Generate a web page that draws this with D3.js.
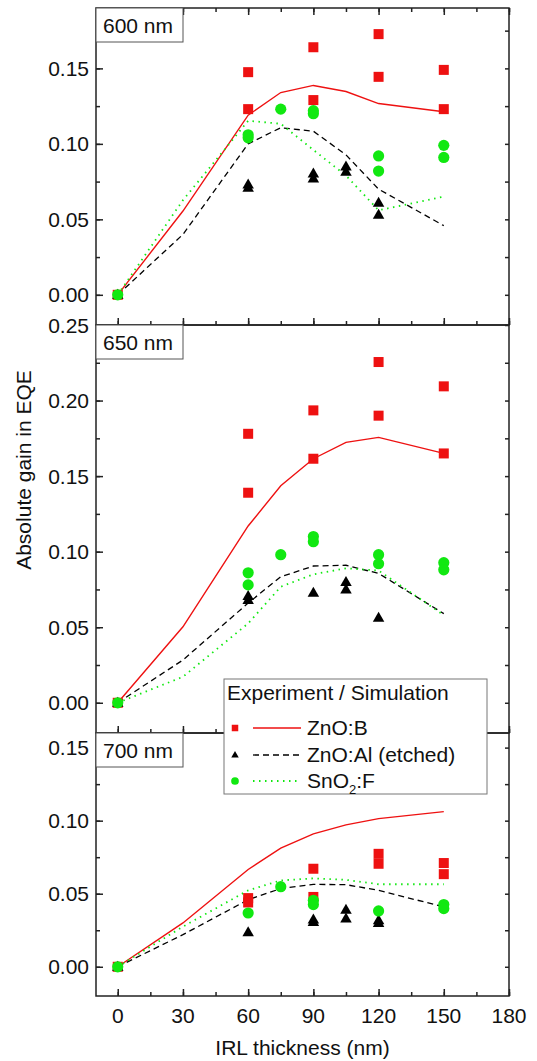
<!DOCTYPE html>
<html>
<head>
<meta charset="utf-8">
<style>
  body { margin: 0; background: #fff; }
  svg text { font-family: "Liberation Sans", Arial, sans-serif; fill: #111; }
  .axis path, .axis line { stroke: #222; stroke-width: 1.5px; }
</style>
<script src="https://d3js.org/d3.v7.min.js"></script>
</head>
<body>
<script>

// thickness grid of the simulations (nm)
var simX = [0, 30, 60, 75, 90, 105, 120, 150];

// 600 nm
var sim600B  = [0, 0.0555, 0.119, 0.134, 0.1387, 0.1347, 0.1267, 0.1213];
var sim600Al = [0, 0.040, 0.100, 0.1107, 0.1084, 0.0927, 0.070, 0.0458];
var sim600F  = [0, 0.0627, 0.1153, 0.1133, 0.096, 0.079, 0.056, 0.065];
var exp600B  = [[0,0],[60,0.1475],[60,0.123],[90,0.164],[90,0.129],[120,0.1727],[120,0.1444],[150,0.149],[150,0.123]];
var exp600Al = [[0,0],[60,0.073],[60,0.071],[90,0.0804],[90,0.077],[105,0.085],[105,0.0816],[120,0.061],[120,0.053]];
var exp600F  = [[0,0],[60,0.104],[60,0.106],[75,0.123],[90,0.120],[90,0.122],[120,0.092],[120,0.082],[150,0.099],[150,0.091]];

// 650 nm
var sim650B  = [0, 0.0503, 0.117, 0.1436, 0.1615, 0.1723, 0.1756, 0.165];
var sim650Al = [0, 0.0283, 0.066, 0.0834, 0.0905, 0.091, 0.0856, 0.059];
var sim650F  = [0, 0.0172, 0.0525, 0.0768, 0.085, 0.089, 0.0875, 0.058];
var exp650B  = [[0,0],[60,0.178],[60,0.139],[90,0.1935],[90,0.1615],[120,0.2255],[120,0.190],[150,0.2094],[150,0.165]];
var exp650Al = [[0,0],[60,0.0706],[60,0.068],[90,0.0728],[105,0.080],[105,0.075],[120,0.0563]];
var exp650F  = [[0,0],[60,0.086],[60,0.078],[75,0.098],[90,0.110],[90,0.1066],[120,0.098],[120,0.092],[150,0.0927],[150,0.088]];

// 700 nm
var sim700B  = [0, 0.030, 0.0666, 0.0812, 0.091, 0.0971, 0.1014, 0.1062];
var sim700Al = [0, 0.022, 0.0459, 0.0535, 0.0564, 0.0562, 0.0523, 0.041];
var sim700F  = [0, 0.0275, 0.0523, 0.0591, 0.0605, 0.0595, 0.0565, 0.0565];
var exp700B  = [[0,0],[60,0.047],[60,0.044],[90,0.0671],[90,0.0478],[120,0.0773],[120,0.0705],[150,0.071],[150,0.0634]];
var exp700Al = [[0,0],[60,0.0237],[90,0.0323],[90,0.0307],[105,0.0391],[105,0.033],[120,0.0318],[120,0.030]];
var exp700F  = [[0,0],[60,0.0368],[75,0.0548],[90,0.0455],[90,0.0426],[120,0.0382],[150,0.0426],[150,0.0398]];

var xTicks = [0, 30, 60, 90, 120, 150, 180];
var legendNames = ["ZnO:B", "ZnO:Al (etched)", "SnO2:F"];

var width = 537, height = 1061;
var left = 96, right = 509;
var red = "#ee1111", green = "#11e811", black = "#000";
var fs = "21px";

var panels = [
  {label: "600 nm", top: 8,   bottom: 325, domain: [-0.02, 0.19], ticks: [0, 0.05, 0.10, 0.15],
   sim: [sim600B, sim600Al, sim600F], exp: [exp600B, exp600Al, exp600F], topTicks: true},
  {label: "650 nm", top: 325, bottom: 733, domain: [-0.02, 0.25], ticks: [0, 0.05, 0.10, 0.15, 0.20, 0.25],
   sim: [sim650B, sim650Al, sim650F], exp: [exp650B, exp650Al, exp650F]},
  {label: "700 nm", top: 733, bottom: 996, domain: [-0.02, 0.16], ticks: [0, 0.05, 0.10, 0.15],
   sim: [sim700B, sim700Al, sim700F], exp: [exp700B, exp700Al, exp700F], bottomLabels: true}
];

var svg = d3.select("body").append("svg")
    .attr("width", width)
    .attr("height", height);

var x = d3.scaleLinear().domain([-10, 180]).range([left, right]);
var xMinor = d3.range(0, 181, 15);

var lineStyles = [
  {color: red, dash: null, width: 1.4},
  {color: black, dash: "6,4", width: 1.3},
  {color: green, dash: "1.5,4.5", width: 1.8}
];

function marker(g, kind, cx, cy, s) {
  if (kind == 0) {
    g.append("rect").attr("x", cx - s/2).attr("y", cy - s/2).attr("width", s).attr("height", s).attr("fill", red);
  } else if (kind == 1) {
    var h = s * 1.0, w = s * 1.15;
    g.append("path").attr("d", "M" + cx + "," + (cy - h*0.6) + "L" + (cx + w/2) + "," + (cy + h*0.4) + "L" + (cx - w/2) + "," + (cy + h*0.4) + "Z").attr("fill", black);
  } else {
    g.append("circle").attr("cx", cx).attr("cy", cy).attr("r", s/2 + 0.6).attr("fill", green);
  }
}

panels.forEach(function(p) {
  var y = d3.scaleLinear().domain(p.domain).range([p.bottom, p.top]);
  var g = svg.append("g");

  var minor = d3.range(0, p.domain[1] + 0.0001, 0.025);

  // left axis
  g.append("g").attr("class", "axis").attr("transform", "translate(" + left + ",0)")
    .call(d3.axisRight(y).tickValues(minor).tickSize(4).tickFormat(""))
    .call(function(a) { a.select(".domain").remove(); });
  g.append("g").attr("class", "axis").attr("transform", "translate(" + left + ",0)")
    .call(d3.axisRight(y).tickValues(p.ticks).tickSize(7).tickFormat(""))
    .call(function(a) { a.select(".domain").remove(); });
  p.ticks.forEach(function(t) {
    g.append("text").attr("x", left - 7).attr("y", y(t)).attr("dy", "0.36em")
      .attr("text-anchor", "end").style("font-size", fs).text(d3.format(".2f")(t));
  });

  // right axis
  g.append("g").attr("class", "axis").attr("transform", "translate(" + right + ",0)")
    .call(d3.axisLeft(y).tickValues(minor).tickSize(4).tickFormat(""))
    .call(function(a) { a.select(".domain").remove(); });

  // bottom axis (ticks inward)
  g.append("g").attr("class", "axis").attr("transform", "translate(0," + p.bottom + ")")
    .call(d3.axisTop(x).tickValues(xMinor).tickSize(4).tickFormat(""))
    .call(function(a) { a.select(".domain").remove(); });
  g.append("g").attr("class", "axis").attr("transform", "translate(0," + p.bottom + ")")
    .call(d3.axisTop(x).tickValues(xTicks).tickSize(7).tickFormat(""))
    .call(function(a) { a.select(".domain").remove(); });
  if (p.topTicks) {
    g.append("g").attr("class", "axis").attr("transform", "translate(0," + p.top + ")")
      .call(d3.axisBottom(x).tickValues(xMinor).tickSize(4).tickFormat(""))
      .call(function(a) { a.select(".domain").remove(); });
    g.append("g").attr("class", "axis").attr("transform", "translate(0," + p.top + ")")
      .call(d3.axisBottom(x).tickValues(xTicks).tickSize(7).tickFormat(""))
      .call(function(a) { a.select(".domain").remove(); });
  }
  if (p.bottomLabels) {
    xTicks.forEach(function(t) {
      g.append("text").attr("x", x(t)).attr("y", p.bottom + 27)
        .attr("text-anchor", "middle").style("font-size", fs).text(t);
    });
  }

  // simulation curves
  var line = d3.line().x(function(d, i) { return x(simX[i]); }).y(function(d) { return y(d); });
  p.sim.forEach(function(s, k) {
    g.append("path").datum(s).attr("d", line)
      .attr("fill", "none")
      .attr("stroke", lineStyles[k].color)
      .attr("stroke-width", lineStyles[k].width)
      .attr("stroke-dasharray", lineStyles[k].dash);
  });

  // experiments
  p.exp.forEach(function(e, k) {
    e.forEach(function(d) { marker(g, k, x(d[0]), y(d[1]), 10); });
  });

  // frame
  g.append("rect").attr("x", left).attr("y", p.top).attr("width", right - left).attr("height", p.bottom - p.top)
    .attr("fill", "none").attr("stroke", "#222").attr("stroke-width", 1.5);

  // wavelength label
  g.append("rect").attr("x", left).attr("y", p.top).attr("width", 87).attr("height", 34)
    .attr("fill", "#fff").attr("stroke", "#555").attr("stroke-width", 1);
  g.append("text").attr("x", left + 7).attr("y", p.top + 25).style("font-size", fs).text(p.label);
});

// legend
var lg = svg.append("g");
lg.append("rect").attr("x", 224).attr("y", 679).attr("width", 263).attr("height", 115)
  .attr("fill", "#fff").attr("stroke", "#777").attr("stroke-width", 1);
lg.append("text").attr("x", 227).attr("y", 700).style("font-size", fs).text("Experiment / Simulation");
var rowY = [728, 755, 781];
legendNames.forEach(function(n, k) {
  marker(lg, k, 235, rowY[k], 6.5);
  lg.append("line").attr("x1", 253).attr("x2", 301).attr("y1", rowY[k]).attr("y2", rowY[k])
    .attr("stroke", lineStyles[k].color).attr("stroke-width", lineStyles[k].width)
    .attr("stroke-dasharray", lineStyles[k].dash);
  var t = lg.append("text").attr("x", 307).attr("y", rowY[k] + 7).style("font-size", fs);
  if (n == "SnO2:F") {
    t.append("tspan").text("SnO");
    t.append("tspan").attr("dy", 6).style("font-size", "13px").text("2");
    t.append("tspan").attr("dy", -6).text(":F");
  } else {
    t.text(n);
  }
});

// axis titles
svg.append("text").attr("x", (left + right) / 2).attr("y", 1055).attr("text-anchor", "middle")
  .style("font-size", fs).text("IRL thickness (nm)");
svg.append("text").attr("transform", "translate(31,470) rotate(-90)").attr("text-anchor", "middle")
  .style("font-size", fs).text("Absolute gain in EQE");

</script>
</body>
</html>
